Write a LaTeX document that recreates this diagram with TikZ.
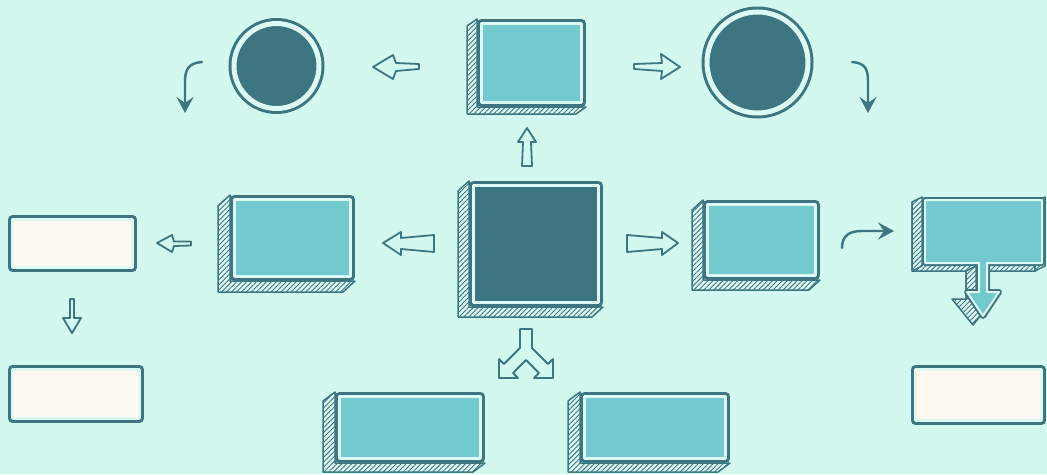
\documentclass[tikz,border=0pt]{standalone}
\usetikzlibrary{patterns.meta,arrows.meta}
\definecolor{bg}{HTML}{D2F8EF}
\definecolor{dk}{HTML}{3D7580}
\definecolor{tl}{HTML}{72CACE}
\definecolor{cr}{HTML}{FFF9F1}
\definecolor{pl}{HTML}{DDF9F3}
\tikzset{
 face/.style={inner sep=0pt, preaction={draw=dk, line width=9pt, line join=round}, draw=pl, line width=3pt, fill=#1, line join=round},
 thinface/.style={inner sep=0pt, preaction={draw=dk, line width=6pt, line join=round}, draw=pl, line width=2pt, fill=#1, line join=round},
 ring/.style={circle, inner sep=0pt, preaction={draw=dk, line width=11pt}, draw=pl, line width=5pt, fill=dk},
 hatchside/.style={fill=pl, draw=dk, line width=1.5pt, line join=round,
   postaction={pattern={Lines[angle=45,distance=3.5pt,line width=0.9pt]}, pattern color=dk}},
 blockarrow/.style={draw=dk, line width=1.8pt, line join=round},
 curvearrow/.style={draw=dk, line width=2.4pt, line cap=round, -{Stealth[length=16pt,width=17pt,inset=6pt]}},
}
\newcommand\tdbox[8]{%
 \pgfmathsetmacro\tbw{#4-#2-9}\pgfmathsetmacro\tbh{#5-#3-9}%
 \path[hatchside] (#2,#3) -- (#2-#6,#3+#7) -- (#2-#6,#5+#7) -- (#4-#6,#5+#7) -- (#4,#5) -- (#2,#5) -- cycle;
 \node[face=#8, minimum width=\tbw pt, minimum height=\tbh pt] (#1) at ({(#2+#4)/2},{(#3+#5)/2}) {};
}
\begin{document}
\begin{tikzpicture}[x=1pt,y=-1pt]
\path[use as bounding box, fill=bg] (0,0) rectangle (1047,474);

% 3D boxes
\tdbox{top}{477}{19}{586}{107}{10}{7}{tl}
\tdbox{center}{469}{181}{603}{307}{11}{10}{dk}
\tdbox{left}{230}{195}{355}{281}{12}{11}{tl}
\tdbox{right}{703}{200}{820}{280}{11}{10}{tl}
\tdbox{botleft}{335}{392}{485}{463}{12}{9}{tl}
\tdbox{botright}{580}{392}{730}{463}{12}{9}{tl}

% callout box with arrow (extrusion)
\path[hatchside, shift={(-10,5)}] (922,197) -- (1045,197) -- (1045,266) -- (990,266) -- (990,294) -- (1004,294) -- (983,320) -- (962,294) -- (976,294) -- (976,266) -- (922,266) -- cycle;
\path[hatchside] (922,197) -- (912,202) -- (912,271) -- (922,266) -- cycle;
\path[hatchside] (1045,197) -- (1045,266) -- (1035,271) -- (1035,202) -- cycle;
\path[hatchside] (976,266) -- (976,294) -- (966,299) -- (966,271) -- cycle;
% callout front
\path[thinface=tl] (925,200) -- (1042,200) -- (1042,263) -- (987,263) -- (987,292) -- (999,292) -- (983,316) -- (967,292) -- (979,292) -- (979,263) -- (925,263) -- cycle;
\coordinate (callout) at (983,240);

% circles
\node[ring, minimum size=85pt] (lcirc) at (276.5,66) {};
\node[ring, minimum size=101pt] (rcirc) at (757.5,62.5) {};

% cream boxes
\node[face=cr, minimum width=120pt, minimum height=48pt] (w1) at (72.5,243.5) {};
\node[face=cr, minimum width=127pt, minimum height=49pt] (w2) at (76,394) {};
\node[face=cr, minimum width=126pt, minimum height=51pt] (w3) at (978.5,395) {};

% block arrows
\draw[blockarrow] (373,67) -- (393,55) -- (396,63) -- (419,64) -- (419,69) -- (396,71) -- (393,79) -- cycle;
\draw[blockarrow] (680,67) -- (661,54) -- (662,63) -- (634,64) -- (634,69) -- (662,71) -- (661,79) -- cycle;
\draw[blockarrow] (527,128) -- (536,142) -- (531,142) -- (532,166) -- (522,166) -- (523,142) -- (518,142) -- cycle;
\draw[blockarrow] (383,243) -- (401,232) -- (401,238) -- (434,235) -- (434,252) -- (401,249) -- (401,255) -- cycle;
\draw[blockarrow] (678,243) -- (662,232) -- (662,238) -- (627,235) -- (627,252) -- (662,249) -- (662,255) -- cycle;
\draw[blockarrow] (157,243) -- (172,235) -- (174,241.5) -- (191,241.5) -- (191,245.5) -- (174,246) -- (172,252) -- cycle;
\draw[blockarrow] (72,333) -- (81,318) -- (74,318) -- (74,299) -- (70,299) -- (70,318) -- (63,318) -- cycle;
\draw[blockarrow] (520,329) -- (532,329) -- (532,348) -- (548,364) -- (553,359) -- (553,378) -- (534,378) -- (539,373) -- (526,360) -- (513,373) -- (518,378) -- (499,378) -- (499,359) -- (504,364) -- (520,348) -- cycle;

% curved arrows
\coordinate (ca1s) at (202,62); \coordinate (ca1e) at (185,113);
\coordinate (ca2s) at (852,62); \coordinate (ca2e) at (868,113);
\coordinate (ca3s) at (842,248); \coordinate (ca3e) at (894,231);
\draw[curvearrow] (ca1s) .. controls (188,63) and (185,70) .. (185,82) -- (ca1e);
\draw[curvearrow] (ca2s) .. controls (866,63) and (868,70) .. (868,82) -- (ca2e);
\draw[curvearrow] (ca3s) .. controls (842,235) and (850,231) .. (862,231) -- (ca3e);
\end{tikzpicture}
\end{document}
